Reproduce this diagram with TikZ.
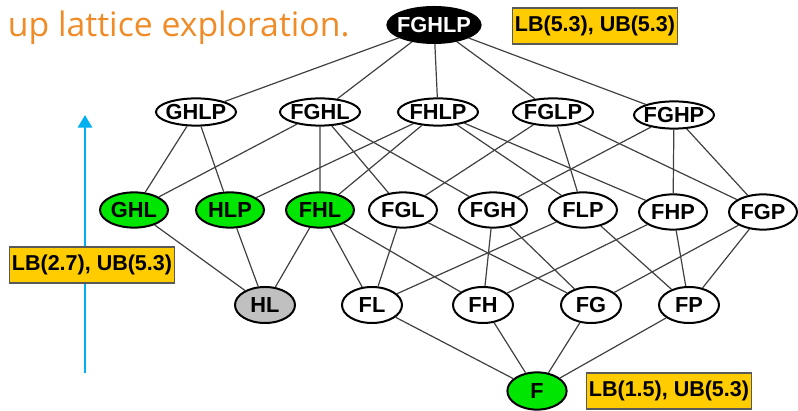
\documentclass[tikz,border=0pt]{standalone}
\usepackage{fontspec}
\setmainfont{Liberation Sans}
\newfontfamily\titlefont{Open Sans}
\usetikzlibrary{shapes.geometric,arrows.meta}
\definecolor{boxgold}{RGB}{255,204,0}
\definecolor{hitgreen}{RGB}{0,230,0}
\definecolor{prunegray}{RGB}{192,192,192}
\definecolor{titleorange}{RGB}{240,140,40}
\definecolor{arrowblue}{RGB}{0,176,240}
\tikzset{
	lat/.style={ellipse, draw=black, line width=0.5mm, fill=white, inner xsep=-4pt, inner ysep=0pt, font=\fontsize{15.5}{17}\selectfont\bfseries},
	lvtwo/.style={lat, minimum width=2cm, minimum height=0.68cm},
	lvthree/.style={lat, minimum width=1.7cm, minimum height=0.88cm},
	lvfour/.style={lat, minimum width=1.5cm, minimum height=0.9cm},
	hit/.style={fill=hitgreen},
	bound/.style={draw=black!65, line width=0.3mm, fill=boxgold, minimum width=4.13cm, minimum height=0.9cm, inner sep=0pt, font=\fontsize{15.3}{17}\selectfont\bfseries},
	edge/.style={draw=black!75, line width=0.3mm}
}

\begin{document}
\begin{tikzpicture}[x=0.025cm, y=-0.025cm]
		%%%%% START %%%%%
		\useasboundingbox (0, 0) rectangle (798, 411);
		
		\node[anchor=base west, text=titleorange, font=\titlefont\fontsize{24}{28}\selectfont] (title) at (3, 37) {up lattice exploration.};
		
		% blue arrow behind the middle box
		\draw[arrowblue, line width=2.1pt, -{Triangle[width=10pt, length=9pt]}] (85, 373) -- (85, 115);
		\node[bound] (b27) at (92, 265) {LB(2.7), UB(5.3)};
		
		% top
		\node[lat, fill=black, text=white, minimum width=2.33cm, minimum height=0.9cm] (fghlp) at (434, 25) {FGHLP};
		\node[bound] (b53) at (595, 26) {LB(5.3), UB(5.3)};
		
		% four attributes
		\node[lvtwo] (ghlp) at (196, 112) {GHLP};
		\node[lvtwo] (fghl) at (320, 112) {FGHL};
		\node[lvtwo] (fhlp) at (438, 112) {FHLP};
		\node[lvtwo] (fglp) at (553, 112) {FGLP};
		\node[lvtwo] (fghp) at (674, 115) {FGHP};
		
		% three attributes
		\node[lvthree, hit] (ghl) at (134, 210) {GHL};
		\node[lvthree, hit] (hlp) at (230, 210) {HLP};
		\node[lvthree, hit] (fhl) at (320, 210) {FHL};
		\node[lvthree] (fgl) at (403, 210) {FGL};
		\node[lvthree] (fgh) at (493, 210) {FGH};
		\node[lvthree] (flp) at (583, 210) {FLP};
		\node[lvthree] (fhp) at (673, 212) {FHP};
		\node[lvthree] (fgp) at (763, 212) {FGP};
		
		% two attributes
		\node[lvfour, fill=prunegray] (hl) at (265, 305) {HL};
		\node[lvfour] (fl) at (372, 305) {FL};
		\node[lvfour] (fh) at (483, 305) {FH};
		\node[lvfour] (fg) at (591, 305) {FG};
		\node[lvfour] (fp) at (689, 305) {FP};
		
		% bottom
		\node[lat, hit, minimum width=1.48cm, minimum height=0.93cm] (f) at (537, 391) {F};
		\node[bound] (b15) at (669, 391) {LB(1.5), UB(5.3)};
		
		% edges
		\draw[edge] (fghlp) -- (ghlp) (fghlp) -- (fghl) (fghlp) -- (fhlp) (fghlp) -- (fglp) (fghlp) -- (fghp);
		
		\draw[edge] (ghlp) -- (ghl) (ghlp) -- (hlp);
		\draw[edge] (fghl) -- (ghl) (fghl) -- (fhl) (fghl) -- (fgl) (fghl) -- (fgh);
		\draw[edge] (fhlp) -- (hlp) (fhlp) -- (fhl) (fhlp) -- (flp) (fhlp) -- (fhp);
		\draw[edge] (fglp) -- (fgl) (fglp) -- (flp) (fglp) -- (fgp);
		\draw[edge] (fghp) -- (fgh) (fghp) -- (fhp) (fghp) -- (fgp);
		
		\draw[edge] (ghl) -- (hl) (hlp) -- (hl);
		\draw[edge] (fhl) -- (hl) (fhl) -- (fl) (fhl) -- (fh);
		\draw[edge] (fgl) -- (fl) (fgl) -- (fg);
		\draw[edge] (fgh) -- (fh) (fgh) -- (fg);
		\draw[edge] (flp) -- (fl) (flp) -- (fp);
		\draw[edge] (fhp) -- (fh) (fhp) -- (fp);
		\draw[edge] (fgp) -- (fg) (fgp) -- (fp);
		
		\draw[edge] (fl) -- (f) (fh) -- (f) (fg) -- (f) (fp) -- (f);
		%%%%% END %%%%%
\end{tikzpicture}
\end{document}
